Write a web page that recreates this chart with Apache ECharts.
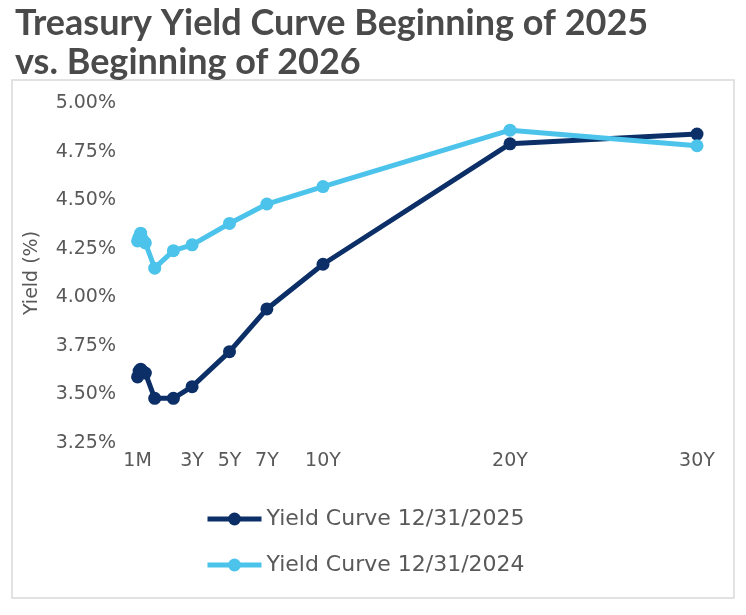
<!DOCTYPE html>
<html>
<head>
<meta charset="utf-8">
<script src="https://cdn.jsdelivr.net/npm/echarts@6/dist/echarts.min.js"></script>
<style>
  html, body { margin: 0; padding: 0; background: #fff; }
  #chart { width: 746px; height: 615px; }
</style>
</head>
<body>
<div id="chart"></div>
<script>
// maturities in years
var maturities = [1/12, 2/12, 3/12, 4/12, 6/12, 1, 2, 3, 5, 7, 10, 20, 30];
var yields2025 = [3.59, 3.62, 3.63, 3.62, 3.61, 3.48, 3.48, 3.54, 3.72, 3.94, 4.17, 4.79, 4.84];
var yields2024 = [4.29, 4.31, 4.33, 4.30, 4.28, 4.15, 4.24, 4.27, 4.38, 4.48, 4.57, 4.86, 4.78];
var tickValues = [1/12, 3, 5, 7, 10, 20, 30];
var tickLabels = ['1M', '3Y', '5Y', '7Y', '10Y', '20Y', '30Y'];

var titleLines = ['Treasury Yield Curve Beginning of 2025', 'vs. Beginning of 2026'];
var seriesNames = ['Yield Curve 12/31/2025', 'Yield Curve 12/31/2024'];

var pairs = function (xs, ys) {
    return xs.map((x, i) => [x, ys[i]]);
};

var chart = echarts.init(document.getElementById('chart'));
chart.setOption({
    animation: false,
    title: {
        text: titleLines.join('\n'),
        left: 10,
        top: -1,
        textStyle: {
            fontFamily: 'Lato',
            fontWeight: 'bold',
            fontSize: 36,
            lineHeight: 39,
            color: '#4a4a4a'
        }
    },
    graphic: [{
        type: 'rect',
        shape: { x: 12, y: 80, width: 722, height: 518 },
        style: { fill: 'none', stroke: '#d9d9d9', lineWidth: 1.5 },
        silent: true,
        z: -1
    }],
    grid: {
        left: 136,
        right: 746 - 697,
        top: 103,
        bottom: 615 - 443
    },
    legend: {
        orient: 'vertical',
        left: 200,
        top: 503,
        itemWidth: 54,
        itemHeight: 16,
        itemGap: 24,
        lineStyle: { width: 5 },
        textStyle: {
            fontFamily: 'DejaVu Sans',
            fontSize: 22,
            color: '#595959'
        },
        data: seriesNames
    },
    xAxis: {
        type: 'value',
        min: 0,
        max: 30,
        axisLine: { show: false },
        axisTick: { show: false },
        splitLine: { show: false },
        axisLabel: {
            customValues: tickValues,
            margin: 9,
            fontFamily: 'DejaVu Sans',
            fontSize: 19,
            color: '#595959',
            formatter: function (v) {
                var i = tickValues.findIndex(t => Math.abs(t - v) < 1e-6);
                return i >= 0 ? tickLabels[i] : '';
            }
        }
    },
    yAxis: {
        type: 'value',
        min: 3.25,
        max: 5,
        interval: 0.25,
        name: 'Yield (%)',
        nameLocation: 'middle',
        nameGap: 94,
        nameRotate: 90,
        nameTextStyle: {
            fontFamily: 'DejaVu Sans',
            fontSize: 19,
            color: '#595959'
        },
        axisLine: { show: false },
        axisTick: { show: false },
        splitLine: { show: false },
        axisLabel: {
            margin: 20,
            fontFamily: 'DejaVu Sans',
            fontSize: 19,
            color: '#595959',
            formatter: v => v.toFixed(2) + '%'
        }
    },
    series: [{
        name: seriesNames[0],
        type: 'line',
        data: pairs(maturities, yields2025),
        symbol: 'circle',
        symbolSize: 13,
        lineStyle: { width: 5, color: '#0b2f66' },
        itemStyle: { color: '#0b2f66' }
    }, {
        name: seriesNames[1],
        type: 'line',
        data: pairs(maturities, yields2024),
        symbol: 'circle',
        symbolSize: 13,
        lineStyle: { width: 5, color: '#4cc3ea' },
        itemStyle: { color: '#4cc3ea' }
    }]
});
</script>
</body>
</html>
